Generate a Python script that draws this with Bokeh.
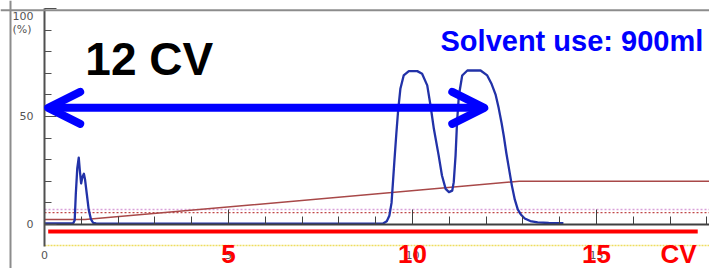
from bokeh.plotting import figure
from bokeh.models import (Range1d, LinearAxis, FixedTicker, Label, Arrow, OpenHead, Span)
from bokeh.embed import file_html
from bokeh.resources import INLINE

# ---------------- data ----------------
# UV trace (% of full scale) against column volumes
trace_cv = [0.0, 0.78, 0.82, 0.85, 0.89, 0.93, 0.96, 0.995, 1.03, 1.07, 1.1, 1.15, 1.2, 1.26, 1.32, 1.4,
            9.1, 9.2, 9.3, 9.37, 9.43, 9.47, 9.51, 9.56, 9.61, 9.67, 9.76, 9.9, 10.13, 10.26, 10.4,
            10.49, 10.58, 10.71, 10.8, 10.9, 10.99, 11.08, 11.12, 11.17, 11.21, 11.26, 11.35, 11.49,
            11.85, 12.03, 12.15, 12.26, 12.34, 12.42, 12.48, 12.55, 12.62, 12.7, 12.78, 12.86, 12.95,
            13.05, 13.2, 13.4, 13.7, 14.1]
trace_pct = [0.5, 0.6, 2, 14, 26, 31, 25, 19, 22, 23.5, 21, 14, 7, 2.5, 0.8, 0.5,
             0.4, 0.5, 1.5, 4, 10, 20, 30, 42, 53, 62.8, 69, 71, 71, 69.8, 64.4,
             55, 44.3, 32, 22.7, 16.5, 15, 15.7, 19.6, 32, 47.4, 59.7, 69, 71.3,
             71.3, 69, 65, 60, 54, 47, 41, 33, 26, 18, 11.5, 7, 4.5,
             2.8, 1.6, 1.0, 0.7, 0.6]

# gradient (% B)
grad_cv = [0.0, 1.1, 12.9, 18.1]
grad_pct = [2.3, 2.3, 20.0, 20.0]

# threshold dotted lines
thr_cv = [0.0, 18.1]
thr_upper = [7.0, 7.0]
thr_lower = [5.5, 5.5]

# red CV bar and yellow line
redbar_cv = [0.1, 17.75]
redbar_lvl = [-3.2, -3.2]
yellow_cv = [0.0, 18.1]
yellow_lvl = [-9.7, -9.7]

# arrow span (12 CV)
arrow_cv = [0.1, 11.95]
arrow_lvl = 54.0

x_major = [0, 5, 10, 15]
x_minor = [1, 2, 3, 4, 6, 7, 8, 9, 11, 12, 13, 14, 16, 17, 18]
y_major = [0, 50, 100]
y_minor = [10, 20, 30, 40, 60, 70, 80, 90]

red_labels = ["5", "10", "15", "CV"]
red_label_cv = [5, 10, 15, 17.23]

# ---------------- figure ----------------
W, H = 709, 268
p = figure(width=W, height=H, output_backend="svg", toolbar_location=None,
           x_range=Range1d(-1.196, 18.07), y_range=Range1d(-20.37, 103.7),
           x_axis_type=None, y_axis_type=None,
           min_border_left=0, min_border_right=0, min_border_top=0, min_border_bottom=0)
p.outline_line_color = None
p.background_fill_color = "white"
p.border_fill_color = "white"

# outer frame lines (left & top)
p.add_layout(Span(location=-0.924, dimension="height", line_color="#8c8c8c", line_width=2))
p.add_layout(Span(location=99.2, dimension="width", line_color="#8c8c8c", line_width=2))

# y axis
yax = LinearAxis(fixed_location=0, bounds=(-10, 100),
                 ticker=FixedTicker(ticks=y_major, minor_ticks=y_minor))
yax.axis_line_color = "#505050"
yax.axis_line_width = 2
yax.major_tick_in = 12
yax.major_tick_out = 0
yax.minor_tick_in = 7
yax.minor_tick_out = 0
yax.major_tick_line_color = "#505050"
yax.minor_tick_line_color = "#505050"
yax.major_label_overrides = {100: ""}
yax.major_label_standoff = 11
yax.major_label_text_font = "DejaVu Sans"
yax.major_label_text_font_size = "11px"
yax.major_label_text_color = "#555555"
p.add_layout(yax, "left")

# x axis
xax = LinearAxis(fixed_location=0, bounds=(0, 18.07),
                 ticker=FixedTicker(ticks=x_major, minor_ticks=x_minor))
xax.axis_line_color = "#404040"
xax.axis_line_width = 2
xax.major_tick_in = 15
xax.major_tick_out = 0
xax.minor_tick_in = 8
xax.minor_tick_out = 0
xax.major_tick_line_color = "#404040"
xax.minor_tick_line_color = "#404040"
xax.major_label_standoff = 27
xax.major_label_text_font = "DejaVu Sans"
xax.major_label_text_font_size = "11px"
xax.major_label_text_color = "#555555"
p.add_layout(xax, "below")

# "100 (%)" label
p.add_layout(Label(x=-0.87, y=96.3, text="100", text_font="DejaVu Sans", text_font_size="11px",
                   text_color="#555555", text_baseline="middle", text_align="left"))
p.add_layout(Label(x=-0.87, y=90.3, text="(%)", text_font="DejaVu Sans", text_font_size="11px",
                   text_color="#555555", text_baseline="middle", text_align="left"))

# threshold dotted lines
p.line(thr_cv, thr_upper, line_color="#d9a0d9", line_width=1.5, line_dash="2 2")
p.line(thr_cv, thr_lower, line_color="#c04848", line_width=1.2, line_dash="2 2")

# yellow line
p.line(yellow_cv, yellow_lvl, line_color="#eedd60", line_width=1.5, line_dash="2 1")

# gradient
p.line(grad_cv, grad_pct, line_color="#a84848", line_width=1.5)

# trace
p.line(trace_cv, trace_pct, line_color="#2232a8", line_width=2.3, line_join="round")

# red bar
p.line(redbar_cv, redbar_lvl, line_color="#ff0000", line_width=4)

# arrow
head_kw = dict(size=32, line_color="#0000ff", line_width=8, line_cap="round", line_join="round")
p.add_layout(Arrow(x_start=arrow_cv[0], y_start=arrow_lvl, x_end=arrow_cv[1], y_end=arrow_lvl,
                   start=OpenHead(**head_kw), end=OpenHead(**head_kw),
                   line_color="#0000ff", line_width=8))

# texts
p.add_layout(Label(x=1.11, y=76.4, text="12 CV", text_font="Liberation Sans", text_font_style="bold",
                   text_font_size="46px", text_color="#000000", text_baseline="alphabetic",
                   text_align="left"))
p.add_layout(Label(x=17.9, y=84.8, text="Solvent use: 900ml", text_font="Liberation Sans",
                   text_font_style="bold", text_font_size="29px", text_color="#0000ff",
                   text_baseline="alphabetic", text_align="right"))

for t, cx in zip(red_labels, red_label_cv):
    p.add_layout(Label(x=cx, y=-13.85, text=t, text_font="Liberation Sans", text_font_style="bold",
                       text_font_size="26px", text_color="#ff0000", text_baseline="alphabetic",
                       text_align="center"))

open("out.html", "w").write(file_html(p, INLINE))
